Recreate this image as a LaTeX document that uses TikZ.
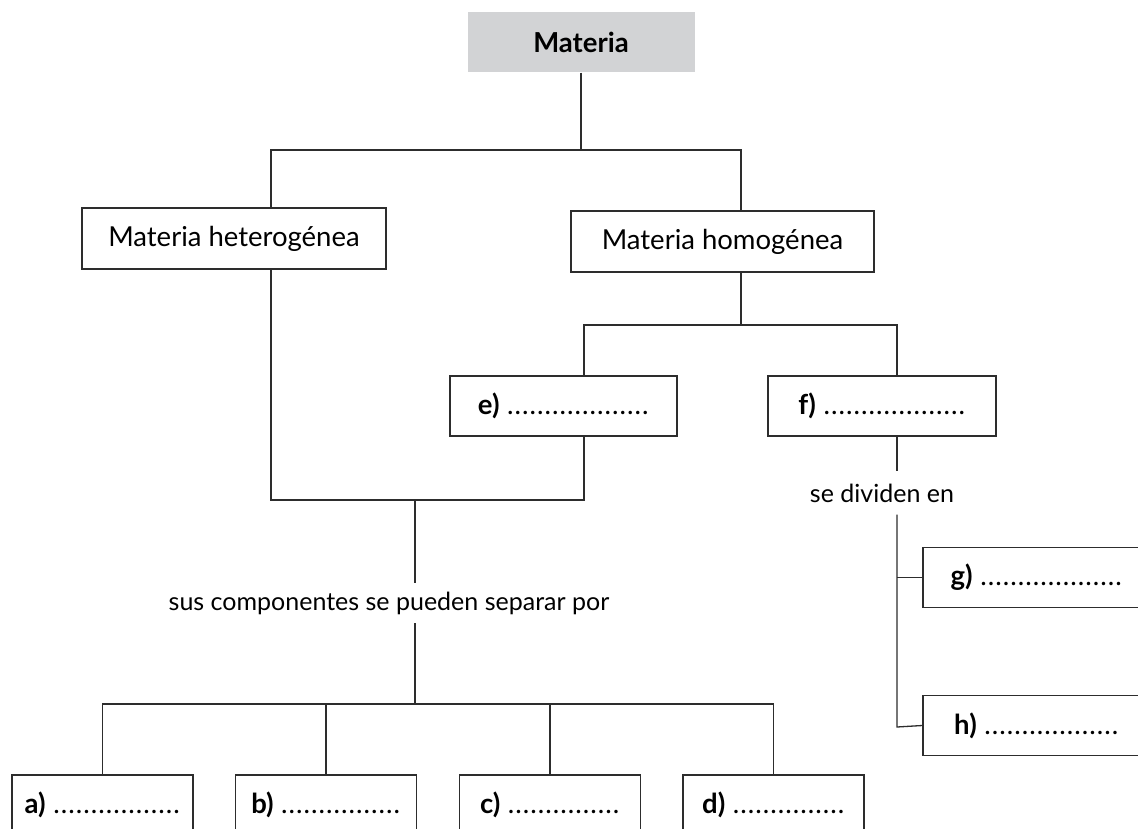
\documentclass[tikz,border=0pt]{standalone}
\usepackage{fontspec}
\setmainfont{Lato}
\usetikzlibrary{positioning}

\definecolor{topgray}{RGB}{210,211,213}
\definecolor{linegray}{RGB}{45,45,45}
\tikzset{
  box/.style={draw=linegray, line width=1.3pt, fill=white, minimum height=60pt, inner sep=0pt},
  link/.style={draw=linegray, line width=1.3pt},
  linetext/.style={font=\fontsize{25}{30}\selectfont},
}
\newcommand{\dotrow}[1]{\foreach \k in {1,...,#1}{\makebox[7.5pt]{.}}}

\begin{document}
\begin{tikzpicture}[x=1pt, y=-1pt, every node/.style={font=\fontsize{27.5}{32}\selectfont}]
  \useasboundingbox (0,0) rectangle (1138,829);
  \clip (0,0) rectangle (1138,829);
  % boxes
  \node[box, draw=none, fill=topgray, minimum width=227pt] (mat) at (581,42) {\textbf{Materia}};
  \node[box, minimum width=304pt, minimum height=61pt] (het) at (234,238.5) {Materia heterogénea};
  \node[box, minimum width=303pt, minimum height=61pt] (hom) at (722.5,241.5) {Materia homogénea};
  \node[box, minimum width=227pt] (e) at (563.5,406) {\textbf{e)} \dotrow{19}};
  \node[box, minimum width=228pt] (f) at (882,406) {\textbf{f)} \dotrow{19}};
  \node[box, minimum width=227pt] (g) at (1036.5,577.5) {\textbf{g)} \dotrow{19}};
  \node[box, minimum width=227pt] (h) at (1036.5,725.5) {\textbf{h)} \dotrow{18}};
  \node[box, minimum width=181pt] (a) at (102.5,805) {\textbf{a)} \dotrow{17}};
  \node[box, minimum width=181pt] (b) at (326,805) {\textbf{b)} \dotrow{16}};
  \node[box, minimum width=181pt] (c) at (550,805) {\textbf{c)} \dotrow{15}};
  \node[box, minimum width=181pt] (d) at (773.5,805) {\textbf{d)} \dotrow{15}};
  % texts on the lines
  \node[linetext, inner sep=12pt] (div) at (882,493) {se dividen en};
  \node[linetext, inner sep=8.5pt] (sus) at (389,603) {sus componentes se pueden separar por};
  % junctions
  \coordinate (jtop) at (581,150);
  \coordinate (jhet) at (271,150);
  \coordinate (jhom) at (741,150);
  \coordinate (je) at (584,325);
  \coordinate (jf) at (897,325);
  \coordinate (jmix) at (415,500);
  \coordinate (jsep) at (415,704);
  \coordinate (jdiv) at (897,727);
  % connectors
  \draw[link] (mat.south) -- (jtop);
  \draw[link] (jhet |- het.north) -- (jhet) -- (jhom) -- (jhom |- hom.north);
  \draw[link] (hom.south -| jhom) -- (jhom |- je);
  \draw[link] (je |- e.north) -- (je) -- (jf) -- (jf |- f.north);
  \draw[link] (jhet |- het.south) -- (jhet |- jmix) -- (je |- jmix) -- (je |- e.south);
  \draw[link] (jmix) -- (jmix |- sus.north);
  \draw[link] (jsep |- sus.south) -- (jsep);
  \draw[link] (a.north) -- (a.north |- jsep) -- (d.north |- jsep) -- (d.north);
  \draw[link] (b.north) -- (b.north |- jsep);
  \draw[link] (c.north) -- (c.north |- jsep);
  \draw[link] (f.south -| jf) -- (jf |- div.north);
  \draw[link] (jf |- div.south) -- (jdiv) -- (h.west);
  \draw[link] (g.west -| jf) -- (g.west);
\end{tikzpicture}
\end{document}
